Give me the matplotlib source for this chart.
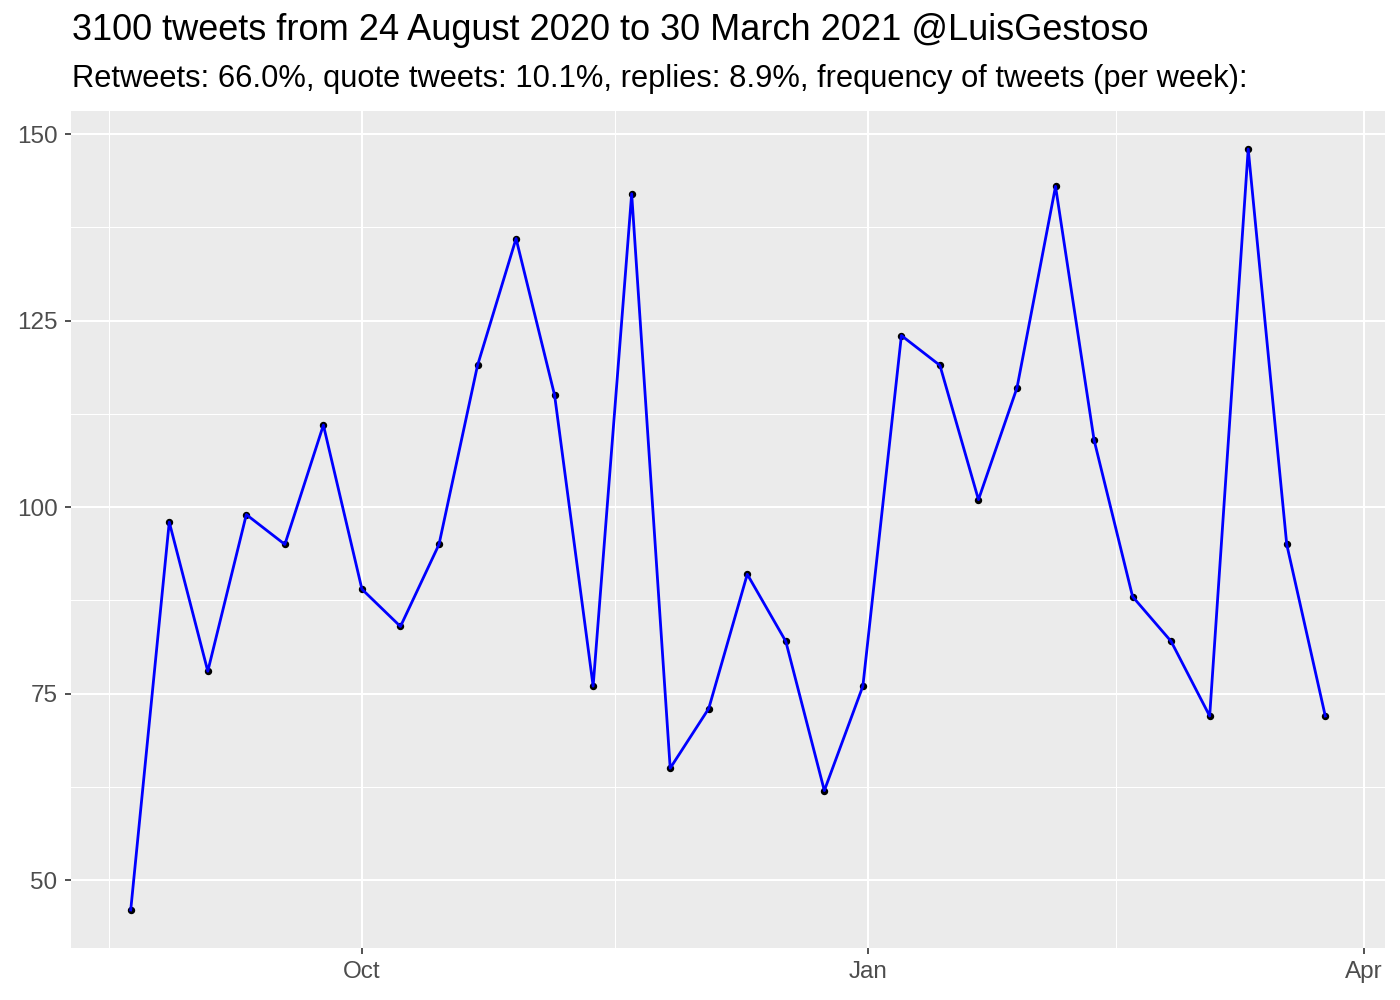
import matplotlib
matplotlib.use("Agg")
import matplotlib.pyplot as plt
import matplotlib.dates as mdates
import pandas as pd
import numpy as np

plt.rcParams['font.family'] = ['Liberation Sans', 'DejaVu Sans']

title = "3100 tweets from 24 August 2020 to 30 March 2021 @LuisGestoso"
subtitle = "Retweets: 66.0%, quote tweets: 10.1%, replies: 8.9%, frequency of tweets (per week):"

week_start = "2020-08-20"
tweets_per_week = [46, 98, 78, 99, 95, 111, 89, 84, 95, 119, 136, 115, 76, 142, 65, 73,
                   91, 82, 62, 76, 123, 119, 101, 116, 143, 109, 88, 82, 72, 148, 95, 72]
weeks = pd.date_range(week_start, periods=len(tweets_per_week), freq="7D")

x_major = pd.to_datetime(["2020-10-01", "2021-01-01", "2021-04-01"])
x_labels = ["Oct", "Jan", "Apr"]
y_major = [50, 75, 100, 125, 150]
y_minor = [62.5, 87.5, 112.5, 137.5]

fig = plt.figure(figsize=(14, 10), dpi=100)
ax = fig.add_axes([71/1400, 52/1000, (1385-71)/1400, (948-111)/1000])
ax.set_facecolor("#EBEBEB")
for s in ax.spines.values():
    s.set_visible(False)

xnum = mdates.date2num(weeks)
ax.plot(xnum, tweets_per_week, 'o', color='black', markersize=4.3, zorder=3)
ax.plot(xnum, tweets_per_week, '-', color='blue', linewidth=2.0, zorder=4)

# limits with ggplot-like 5% expansion
xr = xnum.max() - xnum.min()
ax.set_xlim(xnum.min() - 0.05*xr, xnum.max() + 0.05*xr)
yv = np.array(tweets_per_week)
yr = yv.max() - yv.min()
ax.set_ylim(yv.min() - 0.05*yr, yv.max() + 0.05*yr)

maj = mdates.date2num(x_major)
prev = mdates.date2num(pd.to_datetime(["2020-07-01"]))[0]
allmaj = np.concatenate([[prev], maj])
minors = (allmaj[:-1] + allmaj[1:]) / 2
ax.set_xticks(maj)
ax.set_xticklabels(x_labels)
ax.set_xticks(minors, minor=True)
ax.set_yticks(y_major)
ax.set_yticks(y_minor, minor=True)

ax.grid(which='major', color='white', linewidth=1.5)
ax.grid(which='minor', color='white', linewidth=0.75)
ax.set_axisbelow(True)
ax.tick_params(which='major', length=4.2, width=1.2, color='#333333',
               labelsize=17.5, labelcolor='#4D4D4D', pad=5.5)
ax.tick_params(which='minor', length=0)

fig.text(72/1400, 1 - 40/1000, title, fontsize=26, color='black', ha='left', va='baseline')
fig.text(72/1400, 1 - 87/1000, subtitle, fontsize=22.25, color='black', ha='left', va='baseline')

fig.savefig("out.png", dpi=100)
